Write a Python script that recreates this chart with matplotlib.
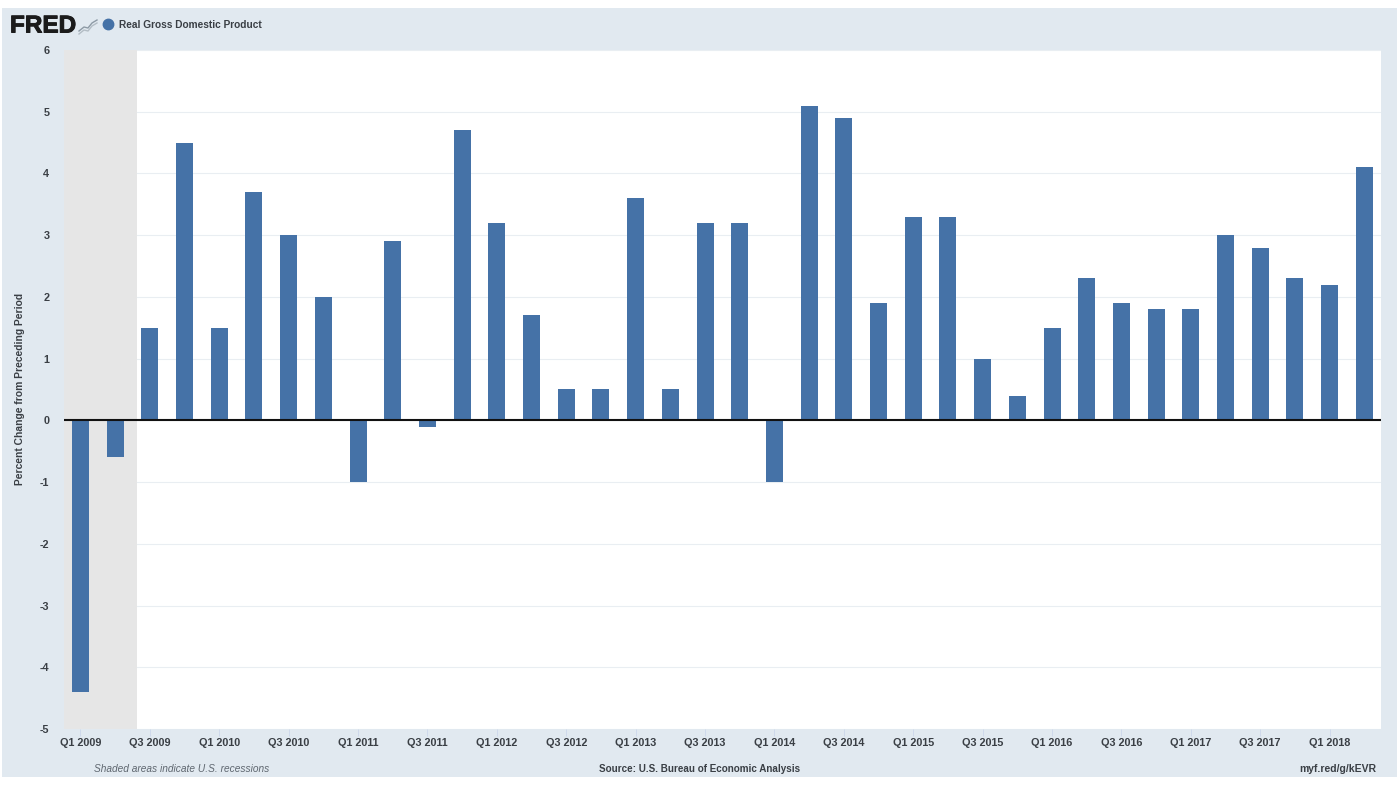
import matplotlib
import matplotlib.pyplot as plt
import matplotlib.patheffects as pe
from matplotlib.lines import Line2D
from matplotlib.patches import Rectangle

matplotlib.use('Agg')

plt.rcParams['font.family'] = ['Liberation Sans', 'DejaVu Sans']
plt.rcParams['axes.unicode_minus'] = False

W, H = 1400, 788

quarters = ['Q1 2009', 'Q2 2009', 'Q3 2009', 'Q4 2009',
            'Q1 2010', 'Q2 2010', 'Q3 2010', 'Q4 2010',
            'Q1 2011', 'Q2 2011', 'Q3 2011', 'Q4 2011',
            'Q1 2012', 'Q2 2012', 'Q3 2012', 'Q4 2012',
            'Q1 2013', 'Q2 2013', 'Q3 2013', 'Q4 2013',
            'Q1 2014', 'Q2 2014', 'Q3 2014', 'Q4 2014',
            'Q1 2015', 'Q2 2015', 'Q3 2015', 'Q4 2015',
            'Q1 2016', 'Q2 2016', 'Q3 2016', 'Q4 2016',
            'Q1 2017', 'Q2 2017', 'Q3 2017', 'Q4 2017',
            'Q1 2018', 'Q2 2018']
gdp_change = [-4.4, -0.6, 1.5, 4.5,
              1.5, 3.7, 3.0, 2.0,
              -1.0, 2.9, -0.1, 4.7,
              3.2, 1.7, 0.5, 0.5,
              3.6, 0.5, 3.2, 3.2,
              -1.0, 5.1, 4.9, 1.9,
              3.3, 3.3, 1.0, 0.4,
              1.5, 2.3, 1.9, 1.8,
              1.8, 3.0, 2.8, 2.3,
              2.2, 4.1]
y_ticks = [-5, -4, -3, -2, -1, 0, 1, 2, 3, 4, 5, 6]
recession_span = [-0.475, 1.63]

BLUE = '#4572a7'
PANEL = '#e1e9f0'
TEXT = '#3a3f45'


def box(left, top, right, bottom):
    # pixel box to figure fractions
    return [left / W, 1 - bottom / H, (right - left) / W, (bottom - top) / H]


fig = plt.figure(figsize=(W / 100, H / 100), dpi=100, facecolor='white')
l, b, w, h = box(2, 8, 1397, 777)
fig.add_artist(Rectangle((l, b), w, h, transform=fig.transFigure,
                         facecolor=PANEL, edgecolor='none', zorder=-5))

ax = fig.add_axes(box(64, 50, 1381, 729))
ax.set_facecolor('white')
x = list(range(len(gdp_change)))

ax.axvspan(recession_span[0], recession_span[1], color='#e6e6e6', lw=0, zorder=1)
ax.bar(x, gdp_change, width=0.49, color=BLUE, zorder=3)
ax.axhline(0, color='#111111', lw=1.5, zorder=4)

ax.set_xlim(-0.475, 37.48)
ax.set_ylim(-5, 6)
ax.set_yticks(y_ticks)
ax.set_xticks(x[::2])
ax.set_xticklabels(quarters[::2])
ax.grid(axis='y', color='#e9eef2', lw=0.8, zorder=2)
ax.set_axisbelow(True)
for side in ax.spines:
    ax.spines[side].set_visible(False)
ax.tick_params(axis='y', length=0, pad=10.5, labelsize=7.8, labelcolor=TEXT)
ax.tick_params(axis='x', length=5, width=0.6, color='#ccd6eb', pad=1.5,
               labelsize=7.8, labelcolor=TEXT)
for lab in ax.get_xticklabels() + ax.get_yticklabels():
    lab.set_fontweight('bold')

fig.text(20 / W, 1 - 389 / H, 'Percent Change from Preceding Period', rotation=90,
         ha='center', va='center', fontsize=7.4, color=TEXT, fontweight='bold')

# header
fig.text(10 / W, 1 - 26 / H, 'FRED', ha='left', va='center', fontsize=17.5,
         fontweight='bold', color='#1b1b1b',
         path_effects=[pe.withStroke(linewidth=0.7, foreground='#1b1b1b')])
icon_x = [79, 84, 88, 92, 97]
icon_y = [31, 27, 28, 23, 20]
fig.add_artist(Line2D([i / W for i in icon_x], [1 - i / H for i in icon_y],
                      color='#8d9aa5', lw=1, transform=fig.transFigure))
fig.add_artist(Line2D([i / W for i in icon_x], [1 - (i + 3) / H for i in icon_y],
                      color='#b3bdc5', lw=1, transform=fig.transFigure))
fig.add_artist(Line2D([108 / W], [1 - 24 / H], marker='o', ms=7.5, color=BLUE,
                      lw=0, transform=fig.transFigure))
fig.text(119 / W, 1 - 24.5 / H, 'Real Gross Domestic Product', ha='left', va='center',
         fontsize=7.3, fontweight='bold', color=TEXT)

# footer
fig.text(94 / W, 1 - 769 / H, 'Shaded areas indicate U.S. recessions', ha='left', va='center',
         fontsize=7.3, style='italic', color='#5f6770')
fig.text(700 / W, 1 - 769 / H, 'Source: U.S. Bureau of Economic Analysis', ha='center', va='center',
         fontsize=7.1, fontweight='bold', color=TEXT)
fig.text(1376 / W, 1 - 769 / H, 'myf.red/g/kEVR', ha='right', va='center',
         fontsize=7.5, fontweight='bold', color=TEXT)

fig.savefig('out.png', dpi=100, facecolor='white')
